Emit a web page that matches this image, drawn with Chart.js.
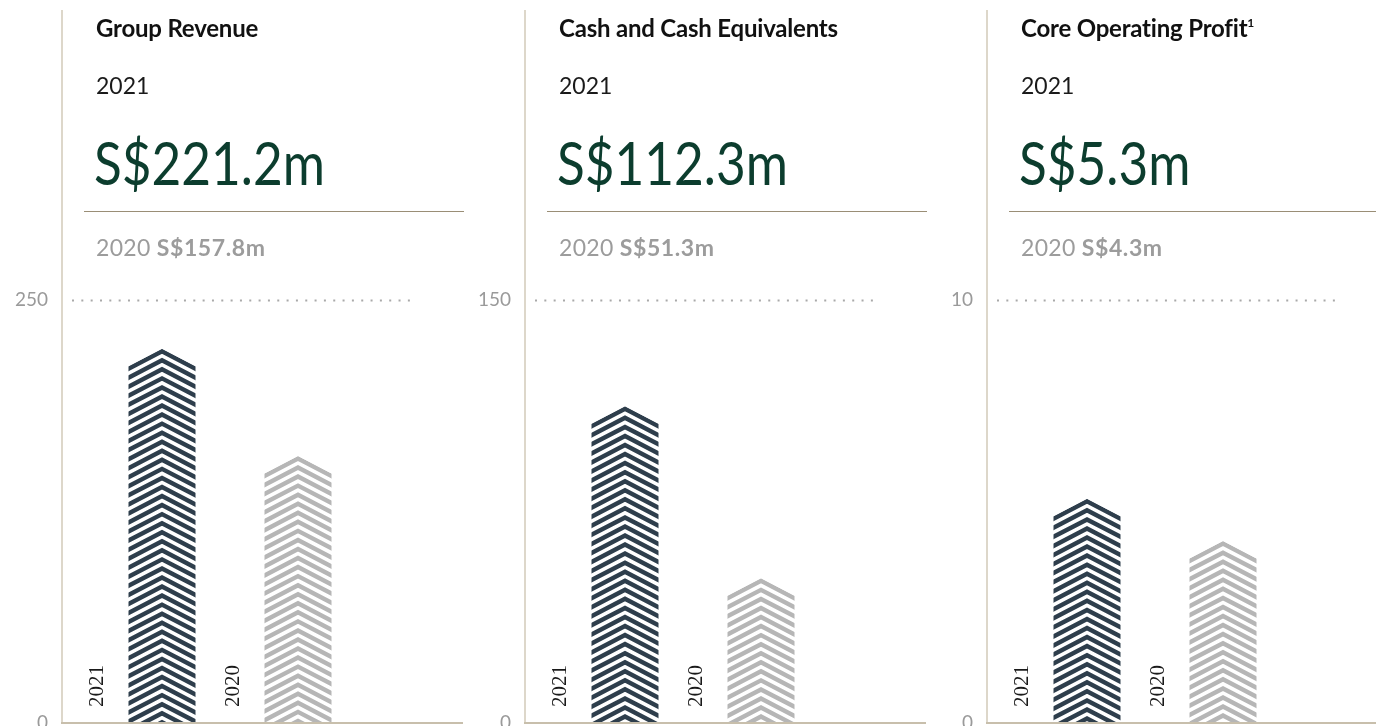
<!DOCTYPE html>
<html>
<head>
<meta charset="utf-8">
<script src="https://cdn.jsdelivr.net/npm/chart.js@4/dist/chart.umd.min.js"></script>
<style>
  html, body { margin:0; padding:0; background:#ffffff; width:1376px; height:726px; overflow:hidden; }
  #wrap { position:relative; width:1376px; height:726px; overflow:hidden; }
  canvas { position:absolute; top:0; }
  .t { position:absolute; white-space:nowrap; font-family:"Lato","Open Sans",sans-serif; line-height:1; }
  .title { font-size:24px; font-weight:700; color:#111; letter-spacing:-0.2px; }
  .title sup { font-size:12px; vertical-align:top; position:relative; top:1px; margin-left:0px; }
  .year { font-size:23px; color:#1a1a1a; }
  .big { font-size:60px; font-weight:400; color:#0c3d2e; transform-origin:left top; transform:scaleX(0.855); }
  .rule { position:absolute; height:1px; background:#9a8e76; }
  .prev { font-size:23px; color:#9c9c9c; letter-spacing:0.3px; }
  .prev b { font-weight:700; letter-spacing:0.6px; }
</style>
</head>
<body>
<div id="wrap"></div>
<script>
// ---- data ----
const panelTitles = ['Group Revenue', 'Cash and Cash Equivalents', 'Core Operating Profit'];
const titleNotes = ['', '', '1'];
const years = ['2021', '2020'];
const groupRevenue = [221.2, 157.8];
const cashEquivalents = [112.3, 51.3];
const coreOperatingProfit = [5.3, 4.3];
const axisMaxima = [250, 150, 10];
const valueLabels2021 = ['S$221.2m', 'S$112.3m', 'S$5.3m'];
const valueLabels2020 = ['S$157.8m', 'S$51.3m', 'S$4.3m'];
const seriesList = [groupRevenue, cashEquivalents, coreOperatingProfit];

// ---- style ----
const axisXs = [62, 525, 987];
const barColors = ['#2e3e4c', '#b6b6b6'];
const CANVAS_W = 463, CANVAS_H = 740;
const AXIS_IN_CANVAS = 62;
const TOP_Y = 300;
const BASE_Y = 723;

const wrap = document.getElementById('wrap');

function addText(cls, html, left, top) {
  const d = document.createElement('div');
  d.className = 't ' + cls;
  d.innerHTML = html;
  d.style.left = left + 'px';
  d.style.top = top + 'px';
  wrap.appendChild(d);
  return d;
}

const chevronPlugin = {
  id: 'chevron',
  beforeDraw(chart) {
    const ctx = chart.ctx;
    const y = chart.scales.y;
    ctx.save();
    ctx.strokeStyle = '#ddd7ca';
    ctx.lineWidth = 2;
    ctx.beginPath();
    ctx.moveTo(AXIS_IN_CANVAS, 10);
    ctx.lineTo(AXIS_IN_CANVAS, BASE_Y);
    ctx.stroke();
    const yt = Math.round(y.getPixelForValue(y.max)) + 0.5;
    ctx.strokeStyle = '#a9a9a9';
    ctx.lineWidth = 2;
    ctx.setLineDash([2, 7.33]);
    ctx.beginPath();
    ctx.moveTo(AXIS_IN_CANVAS + 10, yt);
    ctx.lineTo(AXIS_IN_CANVAS + 352, yt);
    ctx.stroke();
    ctx.restore();
  },
  beforeDatasetDraw() { return false; },
  afterDatasetsDraw(chart) {
    const ctx = chart.ctx;
    const meta = chart.getDatasetMeta(0);
    const y0 = chart.scales.y.getPixelForValue(0);
    meta.data.forEach((el, i) => {
      const p = el.getProps(['x', 'y', 'base', 'width'], true);
      const hw = p.width / 2;
      const slope = 0.52;
      const drop = hw * slope;
      ctx.save();
      ctx.beginPath();
      ctx.moveTo(p.x - hw, p.base);
      ctx.lineTo(p.x - hw, p.y + drop);
      ctx.lineTo(p.x, p.y);
      ctx.lineTo(p.x + hw, p.y + drop);
      ctx.lineTo(p.x + hw, p.base);
      ctx.closePath();
      ctx.clip();
      ctx.strokeStyle = barColors[i];
      const period = 9.05, thick = 5;
      ctx.lineWidth = thick * Math.cos(Math.atan(slope));
      ctx.lineJoin = 'miter';
      ctx.miterLimit = 10;
      const ext = hw + 6;
      for (let yy = p.y + thick / 2; yy < p.base + 2; yy += period) {
        ctx.beginPath();
        ctx.moveTo(p.x - ext, yy + ext * slope);
        ctx.lineTo(p.x, yy);
        ctx.lineTo(p.x + ext, yy + ext * slope);
        ctx.stroke();
      }
      ctx.restore();
      ctx.save();
      ctx.translate(p.x - 65, y0 - 16);
      ctx.rotate(-Math.PI / 2);
      ctx.font = '21px "Liberation Serif", "DejaVu Serif", serif';
      ctx.fillStyle = '#1a1a1a';
      ctx.textAlign = 'left';
      ctx.textBaseline = 'middle';
      ctx.fillText(chart.data.labels[i], 0, 0);
      ctx.restore();
    });
    ctx.save();
    ctx.strokeStyle = '#c8bfac';
    ctx.lineWidth = 2;
    ctx.beginPath();
    ctx.moveTo(AXIS_IN_CANVAS - 1, BASE_Y);
    ctx.lineTo(CANVAS_W + 2, BASE_Y);
    ctx.stroke();
    ctx.restore();
  }
};

seriesList.forEach((vals, k) => {
  const A = axisXs[k];
  const left = A - AXIS_IN_CANVAS;
  const cv = document.createElement('canvas');
  cv.width = CANVAS_W; cv.height = CANVAS_H;
  cv.style.left = left + 'px';
  cv.style.width = CANVAS_W + 'px';
  cv.style.height = CANVAS_H + 'px';
  wrap.appendChild(cv);

  const chart = new Chart(cv.getContext('2d'), {
    type: 'bar',
    data: {
      labels: years,
      datasets: [{
        data: vals,
        backgroundColor: barColors,
        barPercentage: 67 / 136,
        categoryPercentage: 1
      }]
    },
    options: {
      responsive: false,
      animation: false,
      devicePixelRatio: 1,
      events: [],
      layout: { padding: { top: TOP_Y, right: CANVAS_W - (AXIS_IN_CANVAS + 304), bottom: CANVAS_H - BASE_Y, left: 0 } },
      plugins: { legend: { display: false }, tooltip: { enabled: false } },
      scales: {
        x: { display: false, offset: true },
        y: {
          min: 0, max: axisMaxima[k],
          ticks: { stepSize: axisMaxima[k], padding: 46, color: '#9a9a9a',
                   font: { family: 'Lato', size: 19 } },
          grid: { display: false, drawTicks: false },
          border: { display: false },
          afterFit(s) { s.width = AXIS_IN_CANVAS + 32; s.paddingTop = 0; s.paddingBottom = 0; }
        }
      }
    },
    plugins: [chevronPlugin]
  });
  // make sure the plot area spans exactly TOP_Y .. BASE_Y
  for (let it = 0; it < 3; it++) {
    const ca = chart.chartArea;
    const pad = chart.options.layout.padding;
    const db = BASE_Y - ca.bottom, dt = TOP_Y - ca.top;
    if (Math.abs(db) < 0.5 && Math.abs(dt) < 0.5) break;
    pad.bottom = pad.bottom - db;
    pad.top = pad.top + dt;
    chart.update();
  }

  const tx = A + 34;
  addText('title', panelTitles[k] + (titleNotes[k] ? '<sup>' + titleNotes[k] + '</sup>' : ''), tx, 16);
  addText('year', years[0], tx, 74);
  addText('big', valueLabels2021[k], tx - 2, 132);
  const r = document.createElement('div');
  r.className = 'rule';
  r.style.left = (A + 22) + 'px';
  r.style.top = '211px';
  r.style.width = '380px';
  wrap.appendChild(r);
  addText('prev', years[1] + ' <b>' + valueLabels2020[k] + '</b>', tx, 236);
});
</script>
</body>
</html>
